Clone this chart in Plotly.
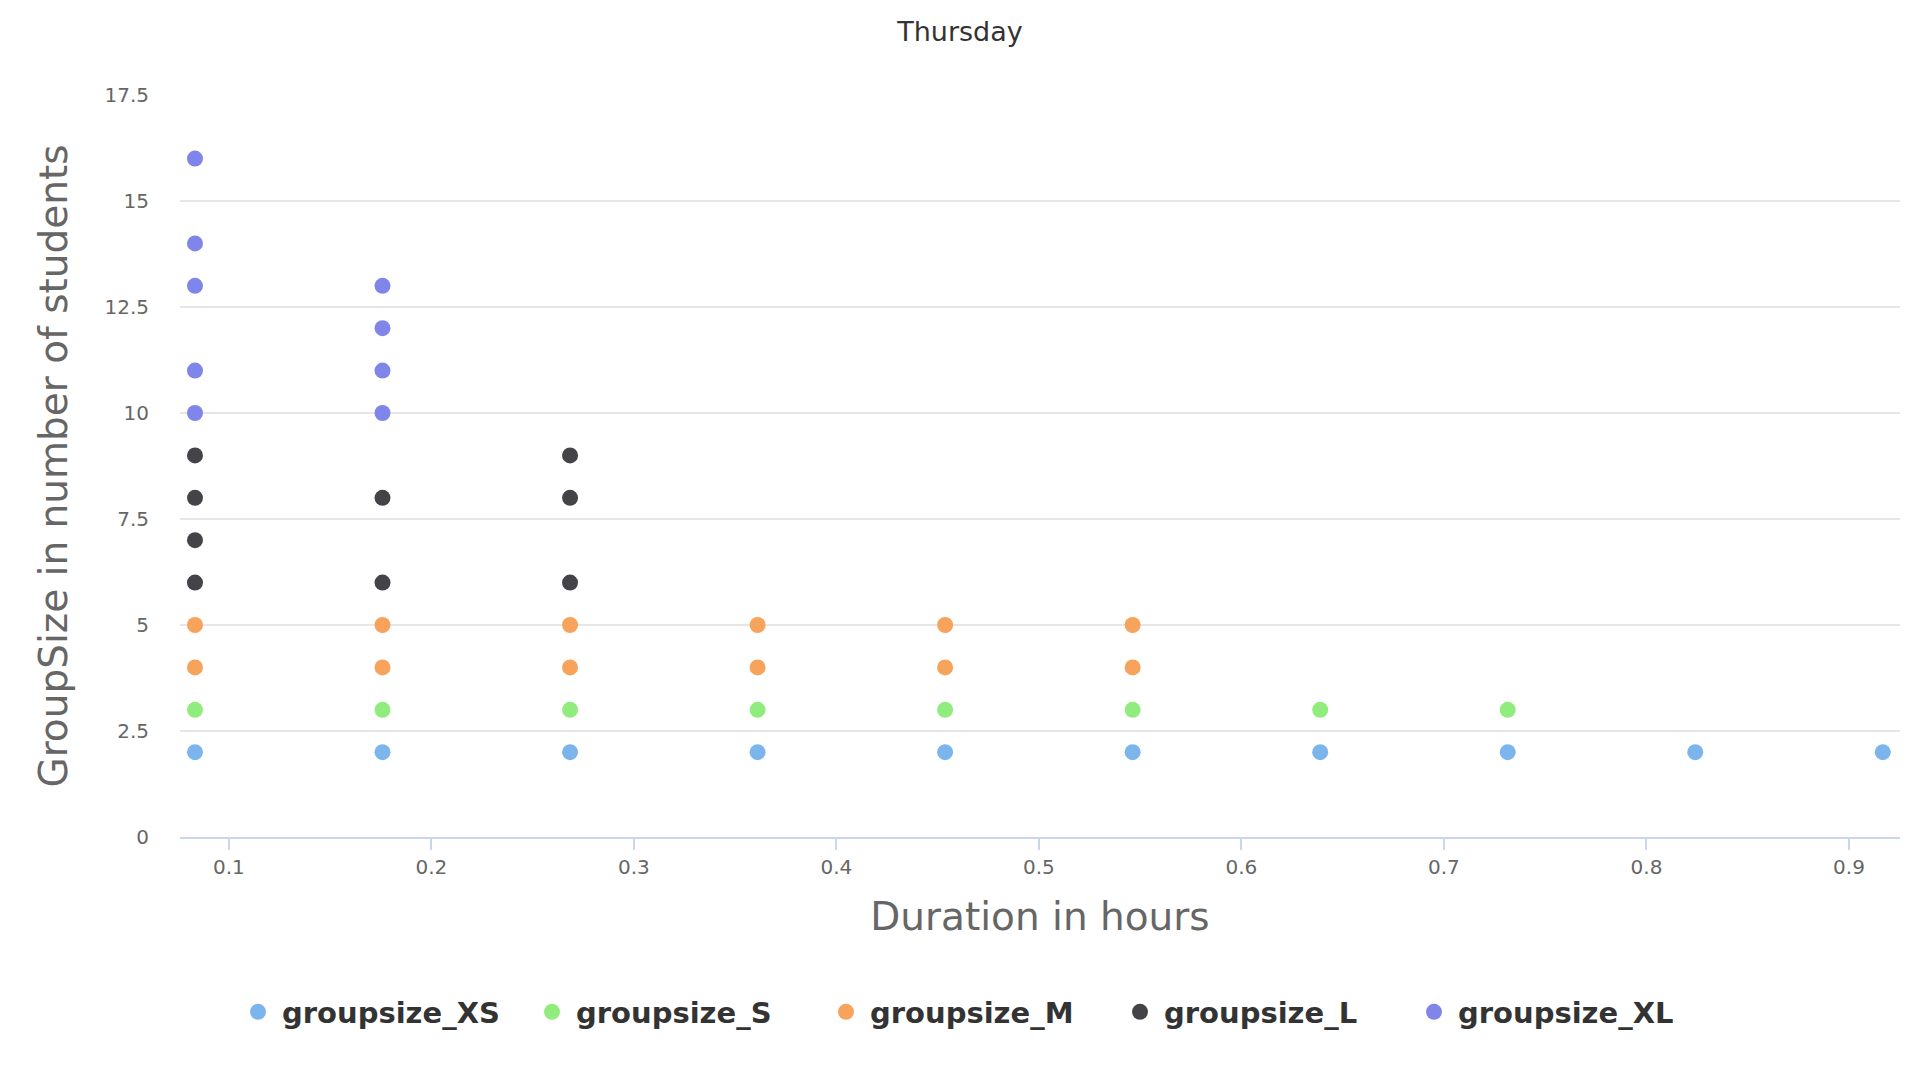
import plotly.graph_objects as go

# Durations (hours) of the 10 measured slots
durations = [0.0833, 0.1759, 0.2685, 0.3611, 0.4537, 0.5463, 0.6389, 0.7315, 0.8241, 0.9167]

xs_x = durations[:]
xs_y = [2, 2, 2, 2, 2, 2, 2, 2, 2, 2]

s_x = durations[:8]
s_y = [3, 3, 3, 3, 3, 3, 3, 3]

m_x = [0.0833, 0.0833, 0.1759, 0.1759, 0.2685, 0.2685, 0.3611, 0.3611, 0.4537, 0.4537, 0.5463, 0.5463]
m_y = [4, 5, 4, 5, 4, 5, 4, 5, 4, 5, 4, 5]

l_x = [0.0833, 0.0833, 0.0833, 0.0833, 0.1759, 0.1759, 0.2685, 0.2685, 0.2685]
l_y = [6, 7, 8, 9, 6, 8, 6, 8, 9]

xl_x = [0.0833, 0.0833, 0.0833, 0.0833, 0.0833, 0.1759, 0.1759, 0.1759, 0.1759]
xl_y = [10, 11, 13, 14, 16, 10, 11, 12, 13]

series_names = ["groupsize_XS", "groupsize_S", "groupsize_M", "groupsize_L", "groupsize_XL"]
series_colors = ["#7cb5ec", "#90ed7d", "#f7a35c", "#434348", "#8085e9"]

y_ticks = [0, 2.5, 5, 7.5, 10, 12.5, 15, 17.5]
y_tick_labels = ["0", "2.5", "5", "7.5", "10", "12.5", "15", "17.5"]
x_ticks = [0.1, 0.2, 0.3, 0.4, 0.5, 0.6, 0.7, 0.8, 0.9]
x_tick_labels = ["0.1", "0.2", "0.3", "0.4", "0.5", "0.6", "0.7", "0.8", "0.9"]

fig = go.Figure()
for name, color, xv, yv in zip(series_names, series_colors,
                               [xs_x, s_x, m_x, l_x, xl_x],
                               [xs_y, s_y, m_y, l_y, xl_y]):
    fig.add_trace(go.Scatter(x=xv, y=yv, mode="markers", name=name,
                             marker=dict(color=color, size=16, line=dict(width=0))))

fig.update_layout(
    width=1920, height=1080,
    paper_bgcolor="white", plot_bgcolor="white",
    margin=dict(l=180, r=20, t=95, b=243),
    font=dict(family="DejaVu Sans", color="#666666"),
    title=dict(text="Thursday", x=0.5, xref="container", xanchor="center",
               y=1 - 32 / 1080, yref="container", yanchor="middle",
               font=dict(size=27, color="#333333", family="DejaVu Sans")),
    showlegend=True,
    legend=dict(orientation="h", xref="container", yref="container",
                x=234 / 1920, xanchor="left", y=1 - 1012 / 1080, yanchor="middle",
                font=dict(size=29, color="#333333", family="DejaVu Sans", weight="bold"),
                entrywidth=241, entrywidthmode="pixels", itemsizing="trace", itemwidth=38),
    xaxis=dict(range=[0.0759, 0.9252], tickvals=x_ticks, ticktext=x_tick_labels,
               showgrid=False, zeroline=False, showline=True, linecolor="#ccd6eb",
               linewidth=2, ticks="outside", ticklen=11, tickwidth=2, tickcolor="#ccd6eb",
               tickfont=dict(size=20, color="#666666"),
               title=dict(text="Duration in hours", font=dict(size=39, color="#666666"), standoff=25)),
    yaxis=dict(range=[0, 17.5], tickvals=y_ticks, ticktext=y_tick_labels,
               showgrid=True, gridcolor="#e6e6e6", gridwidth=1.5, zeroline=False,
               showline=False, ticks="", ticklabelstandoff=30,
               tickfont=dict(size=20, color="#666666"),
               title=dict(text="GroupSize in number of students", font=dict(size=39, color="#666666"), standoff=24)),
)

fig.write_html("out.html")
